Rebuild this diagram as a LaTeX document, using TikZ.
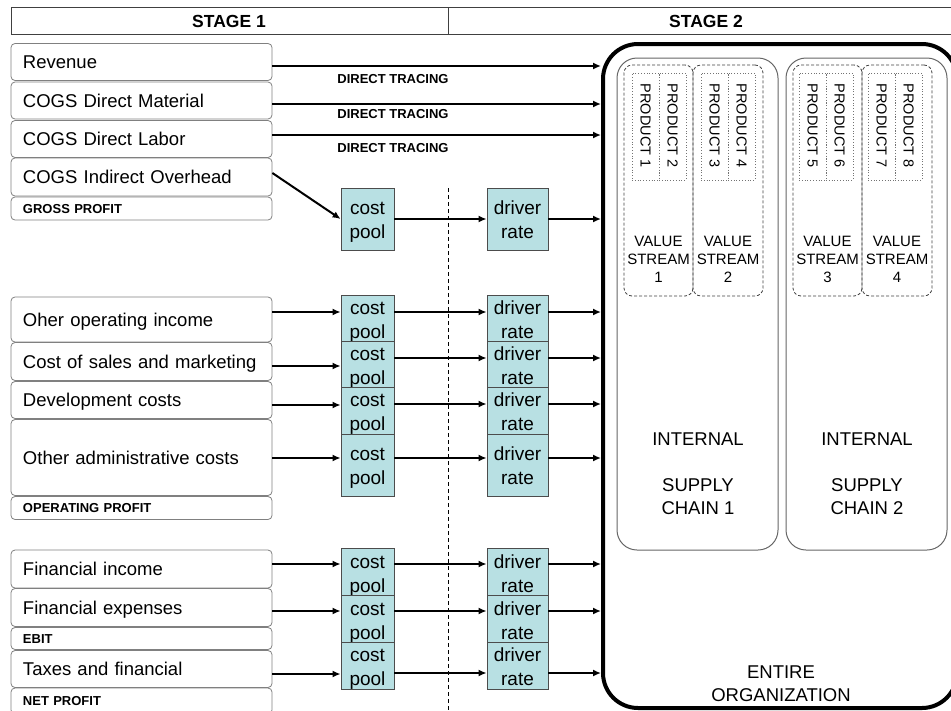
\documentclass[tikz,border=0pt]{standalone}
\usepackage{fontspec}
\setmainfont{Liberation Sans}
\usetikzlibrary{arrows.meta,calc}
\definecolor{poolfill}{RGB}{184,224,227}

\begin{document}
\begin{tikzpicture}[x=1pt,y=-1pt,
  lbox/.style={draw=black!50, line width=0.8pt, rounded corners=4pt,
    minimum width=261pt, text width=237pt, inner xsep=12pt, inner ysep=0pt,
    text height=13.3pt, text depth=0pt,
    align=left, font=\fontsize{18.5}{22}\selectfont},
  sumbox/.style={lbox, text height=9.4pt, text depth=0pt,
    font=\bfseries\fontsize{13}{15}\selectfont},
  pool/.style={draw=black!70, line width=0.8pt, fill=poolfill,
    inner sep=0pt, align=center, text height=43.5pt, text depth=4pt,
    font=\fontsize{19}{24}\selectfont},
  costbox/.style={pool, minimum width=53pt},
  ratebox/.style={pool, minimum width=61pt},
  arr/.style={line width=2pt, -{Latex[length=8pt,width=7pt]}},
  tracing/.style={font=\bfseries\fontsize{13}{15}\selectfont, inner sep=0pt},
  stagelbl/.style={font=\bfseries\fontsize{17.5}{20}\selectfont, inner sep=0pt},
  chainbox/.style={draw=black!60, line width=1pt, rounded corners=20pt,
    minimum width=161pt, minimum height=492pt, inner sep=0pt},
  streambox/.style={draw=black!75, line width=0.8pt, dashed, dash pattern=on 3pt off 2pt,
    rounded corners=8pt, minimum height=231pt, inner sep=0pt},
  prodbox/.style={draw=black!55, line width=0.8pt, dotted,
    minimum width=27pt, minimum height=107pt, inner sep=0pt},
  prodtxt/.style={rotate=-90, anchor=west, inner sep=0pt,
    font=\fontsize{14.5}{16}\selectfont},
  streamtxt/.style={align=center, inner sep=0pt, font=\fontsize{15}{18}\selectfont},
  bigtxt/.style={align=center, inner sep=0pt, font=\fontsize{18.5}{23}\selectfont},
]
\path[use as bounding box, clip] (0,0) rectangle (951,710);

% ---------- header ----------
\draw[black!75, line width=1pt] (11,7) rectangle (955,34);
\draw[black!75, line width=1pt] (448,7) -- (448,34);
\node[stagelbl] (s1) at (229,21) {STAGE 1};
\node[stagelbl] (s2) at (706,21) {STAGE 2};

% ---------- stage divider ----------
\coordinate (dtop) at (448,188);
\coordinate (dbot) at (448,712);
\draw[line width=0.8pt, dash pattern=on 4pt off 3pt] (dtop) -- (dbot);

% ---------- organisation / supply chains ----------
\node[draw, line width=4pt, rounded corners=35pt, minimum width=354pt,
      minimum height=664pt, inner sep=0pt] (org) at (780,376) {};
\node[bigtxt] (orgtxt) at (781,683.5) {ENTIRE\\ORGANIZATION};

\node[chainbox] (sc1) at (697.5,304) {};
\node[chainbox] (sc2) at (866.5,304) {};
\node[bigtxt] (sc1txt) at (698,474) {INTERNAL\\[23pt]SUPPLY\\CHAIN 1};
\node[bigtxt] (sc2txt) at (867,474) {INTERNAL\\[23pt]SUPPLY\\CHAIN 2};

\node[streambox, minimum width=69pt] (vs1) at (658.5,180.5) {};
\node[streambox, minimum width=70pt] (vs2) at (728,180.5) {};
\node[streambox, minimum width=69pt] (vs3) at (827.5,180.5) {};
\node[streambox, minimum width=70pt] (vs4) at (897,180.5) {};
\node[streamtxt] (vs1txt) at (658.5,259) {VALUE\\STREAM\\1};
\node[streamtxt] (vs2txt) at (728,259) {VALUE\\STREAM\\2};
\node[streamtxt] (vs3txt) at (827.5,259) {VALUE\\STREAM\\3};
\node[streamtxt] (vs4txt) at (897,259) {VALUE\\STREAM\\4};

\foreach \i/\x in {1/645.5,2/672.5,3/714.5,4/741.5,5/812.5,6/839.5,7/881.5,8/908.5}{
  \node[prodbox] (p\i) at (\x,126.5) {};
  \node[prodtxt] (p\i txt) at ([yshift=-11pt]p\i.north) {PRODUCT \i};
}

% ---------- stage 1: P&L lines ----------
\node[lbox, minimum height=37pt] (rev) at (141.5,62)    {Revenue};
\node[lbox, minimum height=37pt] (mat) at (141.5,100.5) {COGS Direct Material};
\node[lbox, minimum height=37pt] (lab) at (141.5,139)   {COGS Direct Labor};
\node[lbox, minimum height=38pt] (ovh) at (141.5,177)   {COGS Indirect Overhead};
\node[sumbox, minimum height=23pt] (gp) at (141.5,208.5) {GROSS PROFIT};

\node[lbox, minimum height=45pt] (ooi) at (141.5,319.5) {Oher operating income};
\node[lbox, minimum height=38pt] (csm) at (141.5,361.5) {Cost of sales and marketing};
\node[lbox, minimum height=37pt] (dev) at (141.5,400)   {Development costs};
\node[lbox, minimum height=76pt] (oac) at (141.5,457.5) {Other administrative costs};
\node[sumbox, minimum height=23pt] (op) at (141.5,508)  {OPERATING PROFIT};

\node[lbox, minimum height=38pt] (fi)  at (141.5,569)   {Financial income};
\node[lbox, minimum height=38pt] (fe)  at (141.5,607.5) {Financial expenses};
\node[sumbox, minimum height=22pt] (ebit) at (141.5,638.5) {EBIT};
\node[lbox, minimum height=37pt] (tax) at (141.5,669)   {Taxes and financial};
\node[sumbox, minimum height=26pt] (np) at (141.5,701)  {NET PROFIT};

% ---------- cost pools and driver rates ----------
\foreach \k/\y/\h in {0/219/62,1/319/46,2/365/46,3/411/46,4/465/62,5/572.5/47,6/619.5/47,7/666/46}{
  \node[costbox, minimum height=\h pt] (cp\k) at (367.5,\y) {cost\\pool};
  \node[ratebox, minimum height=\h pt] (dr\k) at (517.5,\y) {driver\\rate};
}

% ---------- direct tracing ----------
\draw[arr] (rev.east |- 0,66)  -- (org.west |- 0,66);
\draw[arr] (mat.east |- 0,104) -- (org.west |- 0,104);
\draw[arr] (lab.east |- 0,135) -- (org.west |- 0,135);
\node[tracing] (t1) at (393,79)  {DIRECT TRACING};
\node[tracing] (t2) at (393,114) {DIRECT TRACING};
\node[tracing] (t3) at (393,148) {DIRECT TRACING};

% ---------- allocation through cost pools ----------
\draw[arr] (ovh.east |- 0,173) -- (cp0.west);
\draw[arr] (ooi.east |- 0,312) -- (cp1.west |- 0,312);
\draw[arr] (csm.east |- 0,366) -- (cp2.west |- 0,366);
\draw[arr] (dev.east |- 0,405) -- (cp3.west |- 0,405);
\draw[arr] (oac.east |- 0,458) -- (cp4.west |- 0,458);
\draw[arr] (fi.east  |- 0,564) -- (cp5.west |- 0,564);
\draw[arr] (fe.east  |- 0,611) -- (cp6.west |- 0,611);
\draw[arr] (tax.east |- 0,674) -- (cp7.west |- 0,674);

\foreach \k/\y in {0/219,1/312,2/358,3/404,4/458,5/564,6/611,7/673}{
  \draw[arr] (cp\k.east |- 0,\y) -- (dr\k.west |- 0,\y);
  \draw[arr] (dr\k.east |- 0,\y) -- (org.west |- 0,\y);
}
\end{tikzpicture}
\end{document}
